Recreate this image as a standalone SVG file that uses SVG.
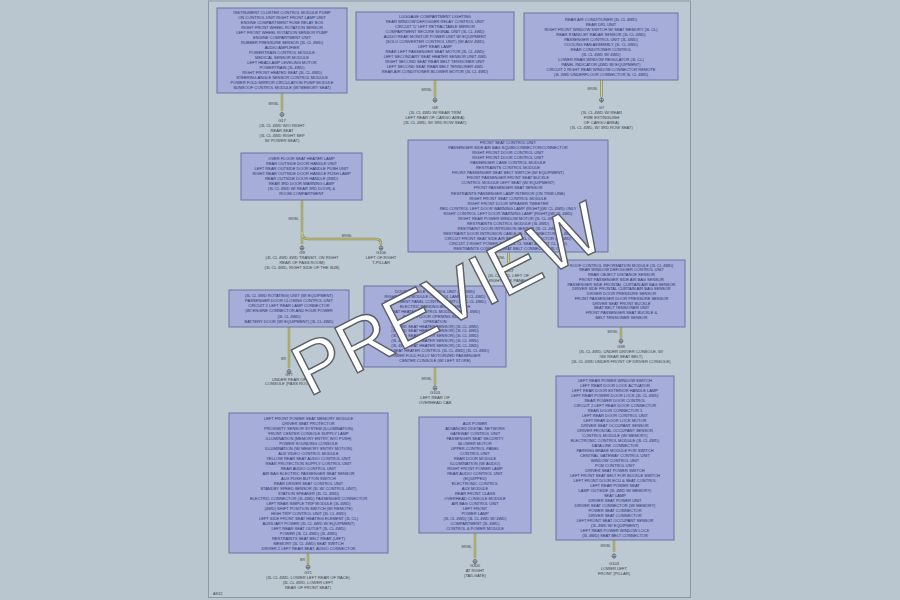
<svg xmlns="http://www.w3.org/2000/svg" xmlns:xlink="http://www.w3.org/1999/xlink" width="900" height="600" viewBox="0 0 900 600">
<style>
.bg{fill:#b9c6cf}
.panel{fill:#bcc9d2;stroke:#8a99a5;stroke-width:1}
.box{fill:#a5add8;stroke:#6a73a6;stroke-width:1}
.t{font-family:"Liberation Sans",Arial,sans-serif;font-size:4px;fill:#2b3272;text-anchor:middle}
.g{font-family:"Liberation Sans",Arial,sans-serif;font-size:4.1px;fill:#3a3f4a;text-anchor:middle}
.wl{font-family:"Liberation Sans",Arial,sans-serif;font-size:3.6px;fill:#4a4a4a;text-anchor:end}
.wo{fill:none;stroke:#8c8a52;stroke-width:2.4}
.wi{fill:none;stroke:#d6d48c;stroke-width:0.9}
.wm{font-family:"Liberation Sans",Arial,sans-serif;font-size:73px;fill:#ffffff;stroke:#5a5f66;stroke-width:1.4;text-anchor:middle}
</style>
<defs>
<g id="gnd" fill="none" stroke="#50545c" stroke-width="0.6">
<circle cx="0" cy="0" r="2"/>
<line x1="0" y1="-2.8" x2="0" y2="2.8"/>
<line x1="-2" y1="0.4" x2="2" y2="0.4"/>
</g>
</defs>
<rect class="bg" x="0" y="0" width="900" height="600"/>
<rect class="panel" x="208.5" y="1" width="482" height="596.5"/>
<text x="213" y="595" style="font-family:'Liberation Sans',Arial,sans-serif;font-size:3.6px;fill:#444">A8/42</text>

<g id="connectors">
<path class="wo" d="M282,93V111 M435,80V97 M601.5,80V97 M302,200V244 M302,232Q302,239 308,239H376Q381,239 381,244V245 M508.5,252V263 M621,327V338 M289,327V368 M435,367V385 M308,553V564 M475,533V558 M614,540V552"/>
<path class="wi" d="M282,93V111 M435,80V97 M601.5,80V97 M302,200V244 M302,232Q302,239 308,239H376Q381,239 381,244V245 M508.5,252V263 M621,327V338 M289,327V368 M435,367V385 M308,553V564 M475,533V558 M614,540V552"/>
<text class="wl" x="279" y="104.5">BR/BL</text>
<text class="wl" x="432" y="90.5">BR/BL</text>
<text class="wl" x="598" y="89.5">BR/BL</text>
<text class="wl" x="299" y="219.5">BR/BL</text>
<text class="wl" x="347" y="237" style="text-anchor:middle">BR/BL</text>
<text class="wl" x="505" y="258.5">BR/BL</text>
<text class="wl" x="618" y="333">BR/BL</text>
<text class="wl" x="286" y="359.5">BR</text>
<text class="wl" x="432" y="379.5">BR/BL</text>
<text class="wl" x="305" y="560.5">BR</text>
<text class="wl" x="472" y="548">BR/BL</text>
<text class="wl" x="611" y="547">BR/BL</text>
</g>

<g id="n1">
<rect class="box" x="217" y="8" width="130" height="85"/>
<text class="t" x="282" y="13.5"><tspan x="282">INSTRUMENT CLUSTER CONTROL MODULE PUMP</tspan><tspan x="282" dy="5">ON CONTROL UNIT RIGHT FRONT LAMP UNIT</tspan><tspan x="282" dy="5">ENGINE COMPARTMENT FUSE RELAY BOX</tspan><tspan x="282" dy="5">RIGHT FRONT WHEEL ROTATION SENSOR</tspan><tspan x="282" dy="5">LEFT FRONT WHEEL ROTATION SENSOR PUMP</tspan><tspan x="282" dy="5">ENGINE COMPARTMENT UNIT</tspan><tspan x="282" dy="5">RUBBER PRESSURE SENSOR (3L CL 4WD)</tspan><tspan x="282" dy="5">AUDIO AMPLIFIER</tspan><tspan x="282" dy="5">POWERTRAIN CONTROL MODULE</tspan><tspan x="282" dy="5">MEDICAL SENSOR MODULE</tspan><tspan x="282" dy="5">LEFT HEADLAMP LEVELING MOTOR</tspan><tspan x="282" dy="5">POWERTRAIN (3L 4WD)</tspan><tspan x="282" dy="5">RIGHT FRONT HEATED SEAT (3L CL 4WD)</tspan><tspan x="282" dy="5">STEERING ANGLE SENSOR CONTROL MODULE</tspan><tspan x="282" dy="5">POWER FOLD MIRROR CIRCULATION PUMP MODULE</tspan><tspan x="282" dy="5">SUNROOF CONTROL MODULE (W/ MEMORY SEAT)</tspan></text>
</g>
<g id="gnd1">
<use xlink:href="#gnd" x="282" y="114.5"/>
<text class="g" x="282" y="122"><tspan x="282">G17</tspan><tspan x="282" dy="5">(3L CL 4WD W/O RIGHT</tspan><tspan x="282" dy="5">REAR SEAT</tspan><tspan x="282" dy="5">(3L CL 4WD RIGHT SEP</tspan><tspan x="282" dy="5">W/ POWER SEAT)</tspan></text>
</g>

<g id="n2">
<rect class="box" x="356" y="12" width="158" height="68"/>
<text class="t" x="435" y="18"><tspan x="435">LUGGAGE COMPARTMENT LIGHTING</tspan><tspan x="435" dy="5">REAR WINDOW DEFOGGER RELAY CONTROL UNIT</tspan><tspan x="435" dy="5">CIRCUIT 'D' LEFT RETRACTABLE MIRROR</tspan><tspan x="435" dy="5">COMPARTMENT SECURE SIGNAL UNIT (3L CL 4WD)</tspan><tspan x="435" dy="5">AUDIO REAR MONITOR POWER UNIT W/ EQUIPMENT</tspan><tspan x="435" dy="5">(SOLO CONVERTER CONTROL UNIT) (W/ ADV 4WD)</tspan><tspan x="435" dy="5">LEFT REAR LAMP</tspan><tspan x="435" dy="5">REAR LEFT PASSENGER SEAT MOTOR (3L CL 4WD)</tspan><tspan x="435" dy="5">LEFT SECONDARY SEAT HEATER SENSOR UNIT 4WD</tspan><tspan x="435" dy="5">RIGHT SECOND SEAT REAR BELT TENSIONER UNIT</tspan><tspan x="435" dy="5">LEFT SECOND SEAT REAR BELT TENSIONER 4WD</tspan><tspan x="435" dy="5">REAR AIR CONDITIONER BLOWER MOTOR (3L CL 4WD)</tspan></text>
</g>
<g id="gnd2">
<use xlink:href="#gnd" x="435" y="100"/>
<text class="g" x="435" y="108.5"><tspan x="435">G8</tspan><tspan x="435" dy="5">(3L CL 4WD W/ REAR TRIM</tspan><tspan x="435" dy="5">LEFT REAR OF CARGO AREA)</tspan><tspan x="435" dy="5">(3L CL 4WD, W/ 3RD ROW SEAT)</tspan></text>
</g>

<g id="n3">
<rect class="box" x="524" y="13" width="154" height="67"/>
<text class="t" x="601" y="20.5"><tspan x="601">REAR AIR CONDITIONER (3L CL 4WD)</tspan><tspan x="601" dy="5">REAR DRL UNIT</tspan><tspan x="601" dy="5">RIGHT FRONT WINDOW SWITCH W/ SEAT MEMORY (3L CL)</tspan><tspan x="601" dy="5">REAR STAND-BY RADAR SENSOR (3L CL 4WD)</tspan><tspan x="601" dy="5">PASSENGER CONTROL UNIT (3L 4WD)</tspan><tspan x="601" dy="5">COOLING FAN ASSEMBLY (3L CL 4WD)</tspan><tspan x="601" dy="5">REAR CONDITIONER CONTROL</tspan><tspan x="601" dy="5">(3L CL 4WD W/ 4WD)</tspan><tspan x="601" dy="5">LOWER REAR WINDOW REGULATOR (3L CL)</tspan><tspan x="601" dy="5">PANEL INDICATOR (4WD W/ EQUIPMENT)</tspan><tspan x="601" dy="5">CIRCUIT 2 RIGHT REAR WINDOW CONNECTOR REMOTE</tspan><tspan x="601" dy="5">(3L 4WD UNDERFLOOR CONNECTOR 3L CL 4WD)</tspan></text>
</g>
<g id="gnd3">
<use xlink:href="#gnd" x="601.5" y="100"/>
<text class="g" x="601.5" y="108.5"><tspan x="601.5">G7</tspan><tspan x="601.5" dy="5">(3L CL 4WD W/ REAR</tspan><tspan x="601.5" dy="5">FIRE EXTINGUISH</tspan><tspan x="601.5" dy="5">OF CARGO AREA)</tspan><tspan x="601.5" dy="5">(3L CL 4WD, W/ 3RD ROW SEAT)</tspan></text>
</g>

<g id="n4">
<rect class="box" x="241" y="153" width="121" height="47"/>
<text class="t" x="301.5" y="159.8"><tspan x="301.5">OVER FLOOR SEAT HEATER LAMP</tspan><tspan x="301.5" dy="5">REAR OUTSIDE DOOR HANDLE UNIT</tspan><tspan x="301.5" dy="5">LEFT REAR OUTSIDE DOOR HANDLE PUSH UNIT</tspan><tspan x="301.5" dy="5">RIGHT REAR OUTSIDE DOOR HANDLE PUSH LAMP</tspan><tspan x="301.5" dy="5">REAR OUTSIDE DOOR HANDLE (3WD)</tspan><tspan x="301.5" dy="5">REAR 3RD DOOR WARNING LAMP</tspan><tspan x="301.5" dy="5">(3L CL 4WD W/ REAR 3RD DOOR) &amp;</tspan><tspan x="301.5" dy="5">ROOM COMPARTMENT</tspan></text>
</g>
<g id="gnd4">
<use xlink:href="#gnd" x="302" y="248"/>
<text class="g" x="302" y="253.8"><tspan x="302">G9</tspan><tspan x="302" dy="5">(4L CL 4WD 4WD TRANSIT, ON RIGHT</tspan><tspan x="302" dy="5">REAR OF PASS ROOM)</tspan><tspan x="302" dy="5">(3L CL 4WD, RIGHT SIDE OF THE SUB)</tspan></text>
<use xlink:href="#gnd" x="381" y="248"/>
<text class="g" x="381" y="253.8"><tspan x="381">G106</tspan><tspan x="381" dy="5">LEFT OF RIGHT</tspan><tspan x="381" dy="5">T-PILLAR</tspan></text>
</g>

<g id="n5">
<rect class="box" x="408" y="140" width="200" height="112"/>
<text class="t" x="508" y="144.2"><tspan x="508">FRONT SEAT CONTROL UNIT</tspan><tspan x="508" dy="5.03">PASSENGER SIDE AIR BAG SQUIB/CONNECTOR/CONNECTOR</tspan><tspan x="508" dy="5.03">RIGHT FRONT DOOR CONTROL UNIT</tspan><tspan x="508" dy="5.03">RIGHT FRONT DOOR CONTROL UNIT</tspan><tspan x="508" dy="5.03">PASSENGER CASE CONTROL MODULE</tspan><tspan x="508" dy="5.03">RESTRAINTS CONTROL MODULE</tspan><tspan x="508" dy="5.03">FRONT PASSENGER SEAT BELT SWITCH (W/ EQUIPMENT)</tspan><tspan x="508" dy="5.03">FRONT PASSENGER FRONT SEAT BUCKLE</tspan><tspan x="508" dy="5.03">CONTROL MODULE LEFT SEAT (W/ EQUIPMENT)</tspan><tspan x="508" dy="5.03">FRONT PASSENGER SEAT SENSOR</tspan><tspan x="508" dy="5.03">RESTRAINTS PASSENGER LAMP INTERIOR (ON TRIM LINE)</tspan><tspan x="508" dy="5.03">RIGHT FRONT SEAT CONTROL MODULE</tspan><tspan x="508" dy="5.03">RIGHT FRONT DOOR SPEAKER TWEETER</tspan><tspan x="508" dy="5.03">RED CONTROL LEFT DOOR WARNING LAMP (RIGHT)(W/ CL 4WD) ONLY</tspan><tspan x="508" dy="5.03">RIGHT CONTROL LEFT DOOR WARNING LAMP (RIGHT)(W/ CL 4WD)</tspan><tspan x="508" dy="5.03">RIGHT REAR POWER WINDOW MOTOR (3L CL 4WD)</tspan><tspan x="508" dy="5.03">RESTRAINTS CONTROL MODULE (3L 4WD)</tspan><tspan x="508" dy="5.03">RESTRAINT DOOR INTRUSION SENSOR (3L CL 4WD)</tspan><tspan x="508" dy="5.03">RESTRAINT DOOR INTRUSION CABLE (3L CL CONNECTOR) 3L 4WD</tspan><tspan x="508" dy="5.03">CIRCUIT FRONT SEAT SIDE AIR BAG (3L CL CONNECTOR CL 4WD)</tspan><tspan x="508" dy="5.03">CIRCUIT 2 RIGHT POWER SEAT (3L CL SEAT ADJUST CL 4WD)</tspan><tspan x="508" dy="5.03">RESTRAINTS CONTROL (SEAT BELT CONNECTOR 3L CL)</tspan></text>
</g>
<g id="gnd5">
<use xlink:href="#gnd" x="508.5" y="266"/>
<text class="g" x="508.5" y="272.2"><tspan x="508.5">G207</tspan><tspan x="508.5" dy="5">(3L CL 4WD, LEFT OF</tspan><tspan x="508.5" dy="5">RIGHT KICK PANEL)</tspan></text>
</g>

<g id="n6">
<rect class="box" x="558" y="260" width="127" height="67"/>
<text class="t" x="621.5" y="266.5"><tspan x="621.5">ROOF CONTROL INFORMATION MODULE (3L CL 4WD)</tspan><tspan x="621.5" dy="4.75">REAR WINDOW DEFOGGER CONTROL UNIT</tspan><tspan x="621.5" dy="4.75">REAR OBJECT DISTANCE SENSOR</tspan><tspan x="621.5" dy="4.75">FRONT PASSENGER SIDE AIR BAG SENSOR</tspan><tspan x="621.5" dy="4.75">PASSENGER SIDE FRONTAL CURTAIN AIR BAG SENSOR</tspan><tspan x="621.5" dy="4.75">DRIVER SIDE FRONTAL CURTAIN AIR BAG SENSOR</tspan><tspan x="621.5" dy="4.75">DRIVER DOOR PRESSURE SENSOR</tspan><tspan x="621.5" dy="4.75">FRONT PASSENGER DOOR PRESSURE SENSOR</tspan><tspan x="621.5" dy="4.75">DRIVER SEAT FRONT BUCKLE</tspan><tspan x="621.5" dy="4.75">SEAT BELT TENSIONER UNIT</tspan><tspan x="621.5" dy="4.75">FRONT PASSENGER SEAT BUCKLE &amp;</tspan><tspan x="621.5" dy="4.75">BELT TENSIONER SENSOR</tspan></text>
</g>
<g id="gnd6">
<use xlink:href="#gnd" x="621" y="341"/>
<text class="g" x="621" y="348.2"><tspan x="621">G38</tspan><tspan x="621" dy="5">(3L CL 4WD, UNDER DRIVER CONSOLE, W/</tspan><tspan x="621" dy="5">ISS REAR SEAT BELT)</tspan><tspan x="621" dy="5">(3L CL 4WD UNDER FRONT OF DRIVER CONSOLE)</tspan></text>
</g>

<g id="n7">
<rect class="box" x="229" y="290" width="120" height="37"/>
<text class="t" x="289" y="296.5"><tspan x="289">(3L CL 4WD ROTATING) UNIT (W/ EQUIPMENT)</tspan><tspan x="289" dy="5.3">PASSENGER DOOR CLOSING CONTROL UNIT</tspan><tspan x="289" dy="5.3">CIRCUIT 2 LEFT REAR LAMP CONNECTOR</tspan><tspan x="289" dy="5.3">(W/ ENGINE CONNECTOR AND FOUR POWER</tspan><tspan x="289" dy="5.3">(3L CL 4WD)</tspan><tspan x="289" dy="5.3">BATTERY DOOR (W/ EQUIPMENT) (3L CL 4WD)</tspan></text>
</g>
<g id="gnd7">
<use xlink:href="#gnd" x="289" y="371.5"/>
<text class="g" x="289" y="376"><tspan x="289">G77</tspan><tspan x="289" dy="4.5">UNDER REAR OF</tspan><tspan x="289" dy="4.5">CONSOLE (PASS ROOM)</tspan></text>
</g>

<g id="n8">
<rect class="box" x="364" y="286" width="142" height="81"/>
<text class="t" x="435" y="293.2"><tspan x="435">DOOR MODULE CONTROL UNIT (W/ 4WD)</tspan><tspan x="435" dy="4.9">RIGHT DOOR MODULE CONTROL LAMP (W/ CL 4WD)</tspan><tspan x="435" dy="4.9">INSTRUMENT PANEL CONTROL SWITCH (3L CL 4WD)</tspan><tspan x="435" dy="4.9">ELECTRIC PARKING BRAKE SWITCH</tspan><tspan x="435" dy="4.9">SEAT HEATER CONTROL MODULE (3L CL 4WD)</tspan><tspan x="435" dy="4.9">POWER DOOR OPENING SWITCH</tspan><tspan x="435" dy="4.9">OPERATION</tspan><tspan x="435" dy="4.9">(3L 4WD SEAT HEATER SENSOR) (3L CL 4WD)</tspan><tspan x="435" dy="4.9">(3L 4WD SEAT HEATER SENSOR) (3L CL 4WD)</tspan><tspan x="435" dy="4.9">(3L 4WD SEAT HEATER SENSOR) (3L CL 4WD)</tspan><tspan x="435" dy="4.9">(3L 4WD SEAT HEATER SENSOR) (3L CL 4WD)</tspan><tspan x="435" dy="4.9">(3L 4WD SEAT HEATER SENSOR) (3L CL 4WD)</tspan><tspan x="435" dy="4.9">REAR SEAT HEATER CONTROL (3L CL 4WD) (3L CL 4WD)</tspan><tspan x="435" dy="4.9">POWER FOLD FULLY MOTORIZED PASSENGER</tspan><tspan x="435" dy="4.9">CENTER CONSOLE (W/ LEFT STORE)</tspan></text>
</g>
<g id="gnd8">
<use xlink:href="#gnd" x="435" y="388"/>
<text class="g" x="435" y="393.8"><tspan x="435">G103</tspan><tspan x="435" dy="5">LEFT REAR OF</tspan><tspan x="435" dy="5">OVERHEAD CAB</tspan></text>
</g>

<g id="n9">
<rect class="box" x="229" y="413" width="159" height="140"/>
<text class="t" x="308.5" y="419.8"><tspan x="308.5">LEFT FRONT POWER SEAT MEMORY MODULE</tspan><tspan x="308.5" dy="5">DRIVER SEAT PROTECTOR</tspan><tspan x="308.5" dy="5">PROXIMITY SENSOR SYSTEM (ILLUMINATION)</tspan><tspan x="308.5" dy="5">FRONT CENTER CONSOLE SUPPLY LAMP</tspan><tspan x="308.5" dy="5">ILLUMINATION (MEMORY ENTRY, W/O PUSH)</tspan><tspan x="308.5" dy="5">POWER SOUNDING CONSOLE</tspan><tspan x="308.5" dy="5">ILLUMINATION (W/ MEMORY ENTRY MOTION)</tspan><tspan x="308.5" dy="5">AUX VIDEO CONTROL MODULE</tspan><tspan x="308.5" dy="5">YELLOW REAR SEAT AUDIO CONTROL UNIT</tspan><tspan x="308.5" dy="5">REAR PROTECTION SUPPLY CONTROL UNIT</tspan><tspan x="308.5" dy="5">REAR AUDIO CONTROL UNIT</tspan><tspan x="308.5" dy="5">AIR BAG ELECTRIC PASSENGER SEAT SENSOR</tspan><tspan x="308.5" dy="5">AUX PUSH BUTTON SWITCH</tspan><tspan x="308.5" dy="5">REAR DRIVER SEAT CONTROL UNIT</tspan><tspan x="308.5" dy="5">STANDBY SPEED SENSOR (3L W/ CONTROL UNIT)</tspan><tspan x="308.5" dy="5">STATION SPEAKER (3L CL 4WD)</tspan><tspan x="308.5" dy="5">ELECTRIC CONNECTOR (3L 4WD) PASSENGER CONNECTOR</tspan><tspan x="308.5" dy="5">LEFT REAR SIMPLE TRIP MODULE (3L 4WD)</tspan><tspan x="308.5" dy="5">(4WD) SHIFT POSITION SWITCH (W/ REMOTE)</tspan><tspan x="308.5" dy="5">HIGH TRIP CONTROL UNIT (3L CL 4WD)</tspan><tspan x="308.5" dy="5">LEFT SIDE FRONT SEAT HEATING ELEMENT (3L CL)</tspan><tspan x="308.5" dy="5">AUXILIARY POWER (3L CL 4WD W/ EQUIPMENT)</tspan><tspan x="308.5" dy="5">LEFT REAR SEAT OUTLET (3L CL 4WD)</tspan><tspan x="308.5" dy="5">POWER (3L CL 4WD) (3L 4WD)</tspan><tspan x="308.5" dy="5">RESTRAINTS SEAT BELT REAR (LEFT)</tspan><tspan x="308.5" dy="5">MEMORY (3L CL 4WD) SEAT SWITCH</tspan><tspan x="308.5" dy="5">DRIVER 2 LEFT REAR SEAT, AUDIO CONNECTOR</tspan></text>
</g>
<g id="gnd9">
<use xlink:href="#gnd" x="308" y="567"/>
<text class="g" x="308" y="573.8"><tspan x="308">G71</tspan><tspan x="308" dy="5">(3L CL 4WD, LOWER LEFT REAR OF RACE)</tspan><tspan x="308" dy="5">(3L CL 4WD, LOWER LEFT</tspan><tspan x="308" dy="5">REAR OF FRONT SEAT)</tspan></text>
</g>

<g id="n10">
<rect class="box" x="419" y="417" width="112" height="116"/>
<text class="t" x="475" y="424.8"><tspan x="475">AUX POWER</tspan><tspan x="475" dy="5">ADVANCED DIGITAL NETWORK</tspan><tspan x="475" dy="5">GATEWAY CONTROL UNIT</tspan><tspan x="475" dy="5">PASSENGER SEAT SECURITY</tspan><tspan x="475" dy="5">BLOWER MOTOR</tspan><tspan x="475" dy="5">UPPER CONTROL PANEL</tspan><tspan x="475" dy="5">CONTROL UNIT</tspan><tspan x="475" dy="5">REAR DOOR MODULE</tspan><tspan x="475" dy="5">ILLUMINATION (W/ AUDIO)</tspan><tspan x="475" dy="5">RIGHT FRONT POWER LAMP</tspan><tspan x="475" dy="5">REAR AUDIO CONTROL UNIT</tspan><tspan x="475" dy="5">(EQUIPPED)</tspan><tspan x="475" dy="5">ELECTRONIC CONTROL</tspan><tspan x="475" dy="5">AUX MODULE</tspan><tspan x="475" dy="5">REAR FRONT CLASS</tspan><tspan x="475" dy="5">OVERHEAD CONSOLE MODULE</tspan><tspan x="475" dy="5">AIR BAG CONTROL UNIT</tspan><tspan x="475" dy="5">LEFT FRONT</tspan><tspan x="475" dy="5">POWER LAMP</tspan><tspan x="475" dy="5">(3L CL 4WD) (3L CL 4WD W/ 4WD)</tspan><tspan x="475" dy="5">COMPARTMENT (3L 4WD)</tspan><tspan x="475" dy="5">CONTROL &amp; POWER MODULE</tspan></text>
</g>
<g id="gnd10">
<use xlink:href="#gnd" x="475" y="561.5"/>
<text class="g" x="475" y="567.2"><tspan x="475">G305</tspan><tspan x="475" dy="5">AT RIGHT</tspan><tspan x="475" dy="5">(TAILGATE)</tspan></text>
</g>

<g id="n11">
<rect class="box" x="556" y="376" width="118" height="164"/>
<text class="t" x="615" y="382.2"><tspan x="615">LEFT REAR POWER WINDOW SWITCH</tspan><tspan x="615" dy="4.98">LEFT REAR DOOR LOCK ACTUATOR</tspan><tspan x="615" dy="4.98">LEFT REAR DOOR EXTERIOR HANDLE LAMP</tspan><tspan x="615" dy="4.98">LEFT REAR POWER DOOR LOCK (3L CL 4WD)</tspan><tspan x="615" dy="4.98">REAR POWER DOOR CONTROL</tspan><tspan x="615" dy="4.98">CIRCUIT 2 LEFT REAR DOOR CONNECTOR</tspan><tspan x="615" dy="4.98">REAR DOOR CONNECTOR 1</tspan><tspan x="615" dy="4.98">LEFT REAR DOOR CONTROL UNIT</tspan><tspan x="615" dy="4.98">LEFT REAR DOOR LOCK MOTOR</tspan><tspan x="615" dy="4.98">DRIVER SEAT OCCUPANT SENSOR</tspan><tspan x="615" dy="4.98">DRIVER FRONTAL OCCUPANT SENSOR</tspan><tspan x="615" dy="4.98">CONTROL MODULE (W/ MEMORY)</tspan><tspan x="615" dy="4.98">ELECTRONIC CONTROL MODULE (3L CL 4WD)</tspan><tspan x="615" dy="4.98">DATA LINK CONNECTOR</tspan><tspan x="615" dy="4.98">PARKING BRAKE MODULE FOR SWITCH</tspan><tspan x="615" dy="4.98">CENTRAL GATEWAY CONTROL UNIT</tspan><tspan x="615" dy="4.98">WINDOW CONTROL UNIT</tspan><tspan x="615" dy="4.98">PCM CONTROL UNIT</tspan><tspan x="615" dy="4.98">DRIVER SEAT POWER SWITCH</tspan><tspan x="615" dy="4.98">LEFT FRONT SEAT BELT FOR BUCKLE SWITCH</tspan><tspan x="615" dy="4.98">LEFT FRONT DOOR ECU &amp; SEAT CONTROL</tspan><tspan x="615" dy="4.98">LEFT REAR POWER SEAT</tspan><tspan x="615" dy="4.98">LAMP OUTSIDE (3L 4WD W/ MEMORY)</tspan><tspan x="615" dy="4.98">SEAT LAMP</tspan><tspan x="615" dy="4.98">DRIVER SEAT POWER UNIT</tspan><tspan x="615" dy="4.98">DRIVER SEAT CONNECTOR (W/ MEMORY)</tspan><tspan x="615" dy="4.98">POWER SEAT CONNECTOR</tspan><tspan x="615" dy="4.98">DRIVER SEAT CONNECTOR</tspan><tspan x="615" dy="4.98">LEFT FRONT SEAT OCCUPANT SENSOR</tspan><tspan x="615" dy="4.98">(3L 4WD W/ EQUIPMENT)</tspan><tspan x="615" dy="4.98">LEFT REAR POWER WINDOW LOCK</tspan><tspan x="615" dy="4.98">(3L 4WD) SEAT BELT CONNECTOR</tspan></text>
</g>
<g id="gnd11">
<use xlink:href="#gnd" x="614" y="556"/>
<text class="g" x="614" y="564.8"><tspan x="614">G103</tspan><tspan x="614" dy="5">LOWER LEFT</tspan><tspan x="614" dy="5">FRONT (PILLAR)</tspan></text>
</g>

<text class="wm" transform="translate(447,298) rotate(-27)" x="0" y="26">PREVIEW</text>
</svg>
